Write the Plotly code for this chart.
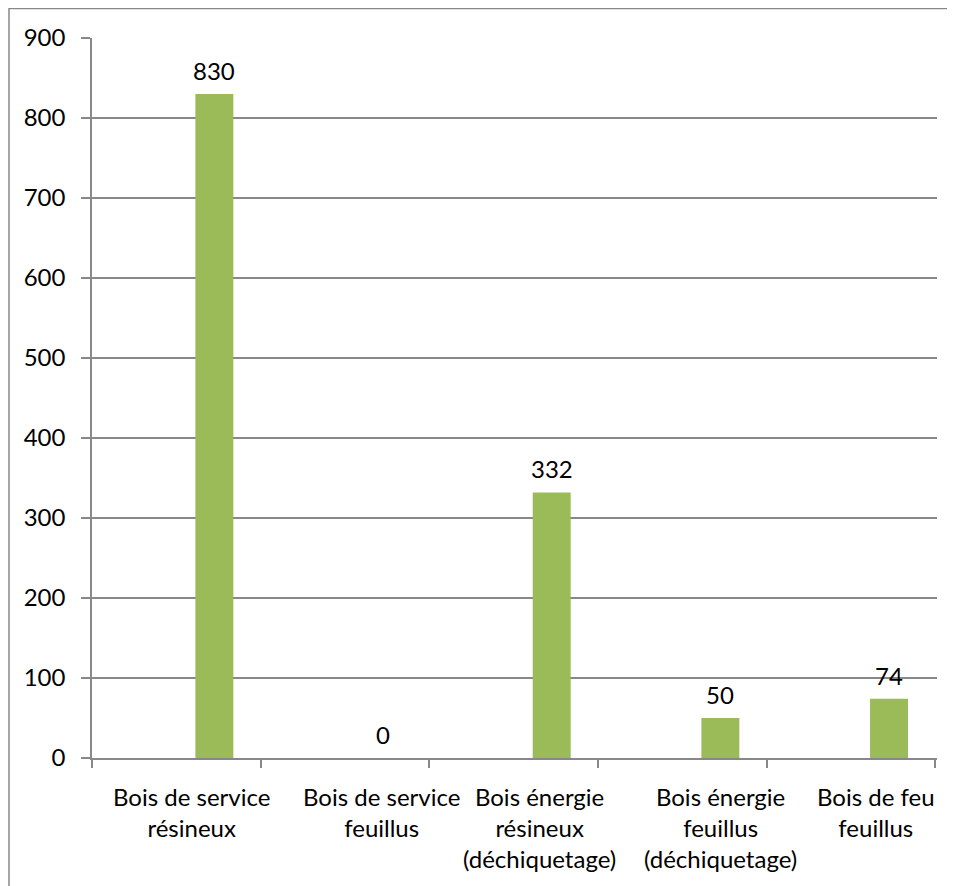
import plotly.graph_objects as go

categories = [
    "Bois de service<br>résineux",
    "Bois de service<br>feuillus",
    "Bois énergie<br>résineux<br>(déchiquetage)",
    "Bois énergie<br>feuillus<br>(déchiquetage)",
    "Bois de feu<br>feuillus",
]
values = [830, 0, 332, 50, 74]
y_ticks = [0, 100, 200, 300, 400, 500, 600, 700, 800, 900]

# page has an 8px body margin, so the figure is offset by 8px
W, H = 947, 878
L, R, T, B = 84, 18, 30, 128
pw, ph = W - L - R, H - T - B

FONT = "Lato"
FS = 24
BAR_OFFSET = 0.113   # bar sits right of the category centre (as in source)
BAR_WIDTH = 0.225
cat_px = pw / len(categories)
label_xshift = [15, 36, 26, 38, 25]  # layout: category label horizontal shifts (px)

fig = go.Figure(
    go.Bar(
        x=categories,
        y=values,
        offset=BAR_OFFSET,
        width=BAR_WIDTH,
        marker=dict(color="#9BBB59", line=dict(width=0)),
        hoverinfo="x+y",
    )
)

annotations = []
bar_center_shift = (BAR_OFFSET + BAR_WIDTH / 2) * cat_px
for i, (c, v) in enumerate(zip(categories, values)):
    annotations.append(dict(
        x=c, y=v, xref="x", yref="y",
        text=str(v), showarrow=False,
        xanchor="center", yanchor="bottom",
        xshift=bar_center_shift, yshift=7,
        font=dict(family=FONT, size=FS, color="#000000"),
    ))
    annotations.append(dict(
        x=c, y=0, xref="x", yref="paper",
        text=c, showarrow=False,
        xanchor="center", yanchor="top", align="center",
        xshift=label_xshift[i], yshift=-22,
        font=dict(family=FONT, size=FS, color="#000000"),
    ))

fig.update_layout(
    width=W,
    height=H,
    margin=dict(l=L, r=R, t=T, b=B, pad=0),
    paper_bgcolor="white",
    plot_bgcolor="white",
    showlegend=False,
    font=dict(family=FONT, size=FS, color="#000000"),
    annotations=annotations,
    shapes=[
        dict(
            type="rect",
            xref="paper",
            yref="paper",
            x0=(1 - L) / pw,
            x1=(W + 10 - L) / pw,
            y0=-(H + 10 - T - ph) / ph,
            y1=1 + (T - 0.5) / ph,
            line=dict(color="#888888", width=1.5),
            fillcolor="rgba(0,0,0,0)",
            layer="below",
        )
    ],
)

fig.update_xaxes(
    showline=True,
    linecolor="#888888",
    linewidth=1.5,
    ticks="outside",
    ticklen=8,
    tickcolor="#888888",
    tickwidth=1.5,
    tickson="boundaries",
    showgrid=False,
    showticklabels=False,
)

fig.update_yaxes(
    range=[0, 900],
    tickvals=y_ticks,
    ticktext=[str(v) for v in y_ticks],
    showline=True,
    linecolor="#888888",
    linewidth=1.5,
    ticks="outside",
    ticklen=9,
    tickcolor="#888888",
    tickwidth=1.5,
    showgrid=True,
    gridcolor="#888888",
    gridwidth=1.5,
    zeroline=False,
    tickfont=dict(family=FONT, size=FS, color="#000000"),
    ticklabelstandoff=11,
)

fig.write_html("out.html")
